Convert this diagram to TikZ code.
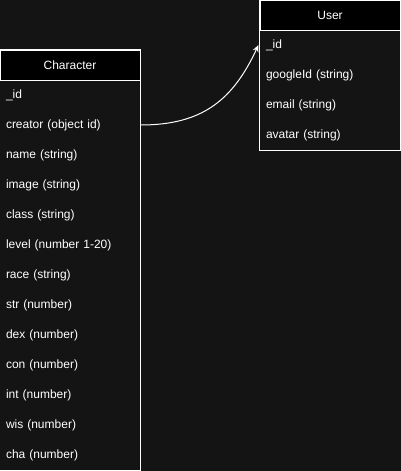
\documentclass[tikz,border=0pt]{standalone}
\usepackage{fontspec}
\setmainfont{Liberation Sans}
\usetikzlibrary{positioning}
\usetikzlibrary{arrows.meta}
\definecolor{canvas}{HTML}{141414}

\begin{document}
\begin{tikzpicture}[x=1pt, y=-1pt, line width=1pt,
    every node/.style={text=white, font=\fontsize{12}{14}\selectfont},
    header/.style={draw=white, fill=black, minimum width=140pt, minimum height=30pt, inner sep=0pt},
    field/.style={minimum width=140pt, minimum height=30pt, inner sep=0pt, text width=128pt, align=left}]

                % Canvas
                \fill[canvas] (0,0) rectangle (401,471);
                \useasboundingbox (0,0) rectangle (401,471);

                % Character table
                \node at (70,65) (charhead) [header] {Character};
                \node at (70,95) (cid) [field] {\_id};
                \node at (70,125) (creator) [field] {creator (object id)};
                \node at (70,155) (cname) [field] {name (string)};
                \node at (70,185) (image) [field] {image (string)};
                \node at (70,215) (class) [field] {class (string)};
                \node at (70,245) (level) [field] {level (number 1-20)};
                \node at (70,275) (race) [field] {race (string)};
                \node at (70,305) (str) [field] {str (number)};
                \node at (70,335) (dex) [field] {dex (number)};
                \node at (70,365) (con) [field] {con (number)};
                \node at (70,395) (int) [field] {int (number)};
                \node at (70,425) (wis) [field] {wis (number)};
                \node at (70,455) (cha) [field] {cha (number)};
                \draw[white] (charhead.north west) rectangle (cha.south east);

                % User table
                \node at (330,15) (userhead) [header] {User};
                \node at (330,45) (uid) [field] {\_id};
                \node at (330,75) (googleid) [field] {googleId (string)};
                \node at (330,105) (email) [field] {email (string)};
                \node at (330,135) (avatar) [field] {avatar (string)};
                \draw[white] (userhead.north west) rectangle (avatar.south east);

                % Arrows
                \draw[-{Stealth[length=7pt, width=6pt]}, white] (creator.east) to[out=0, in=245, looseness=1.1] ([xshift=-1pt]uid.west);

\end{tikzpicture}
\end{document}
